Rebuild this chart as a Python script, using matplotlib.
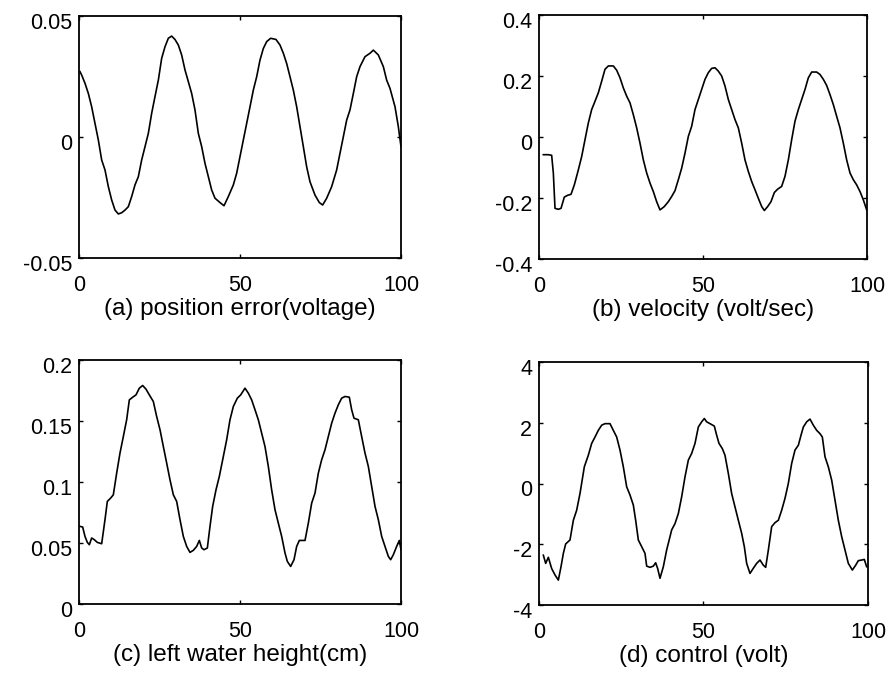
import matplotlib
matplotlib.use("Agg")
import matplotlib.pyplot as plt
import matplotlib.transforms as mtransforms

plt.rcParams['font.family'] = ['Liberation Sans', 'DejaVu Sans']

# (a) position error (voltage)
a_x = [0.31, 0.83, 1.86, 2.90, 3.93, 4.97, 6.00, 7.04, 8.07, 9.11, 10.14, 11.18, 12.22,
       13.25, 14.29, 15.32, 16.36, 17.39, 18.43, 19.46, 20.50, 21.53, 22.57, 23.60,
       24.64, 25.67, 26.71, 27.74, 28.78, 29.81, 30.85, 31.88, 32.92, 33.95, 34.99,
       36.02, 37.06, 38.10, 39.13, 40.17, 41.20, 42.24, 43.79, 45.03, 46.38, 47.93,
       48.96, 50.00, 51.04, 52.07, 53.11, 54.14, 55.18, 56.21, 57.25, 58.28, 59.52,
       61.18, 62.42, 63.46, 64.49, 65.53, 66.56, 67.60, 68.63, 69.67, 70.70, 71.74,
       73.29, 74.64, 75.67, 76.92, 78.47, 80.02, 81.06, 82.09, 83.13, 84.16, 85.20,
       86.23, 87.27, 88.82, 90.37, 91.41, 92.96, 94.51, 95.55, 96.58, 98.14, 99.17,
       100.0]
a_y = [0.0270, 0.0256, 0.0222, 0.0180, 0.0125, 0.0056, -0.0012, -0.0095, -0.0136,
       -0.0205, -0.0260, -0.0302, -0.0318, -0.0313, -0.0302, -0.0288, -0.0246,
       -0.0198, -0.0164, -0.0095, -0.0040, 0.0015, 0.0098, 0.0167, 0.0235, 0.0325,
       0.0373, 0.0408, 0.0417, 0.0403, 0.0380, 0.0339, 0.0277, 0.0229, 0.0180,
       0.0112, 0.0015, -0.0040, -0.0109, -0.0164, -0.0219, -0.0253, -0.0271, -0.0284,
       -0.0246, -0.0198, -0.0150, -0.0081, -0.0012, 0.0056, 0.0125, 0.0194, 0.0249,
       0.0318, 0.0366, 0.0394, 0.0408, 0.0403, 0.0380, 0.0346, 0.0304, 0.0249,
       0.0194, 0.0125, 0.0043, -0.0040, -0.0123, -0.0185, -0.0240, -0.0271, -0.0281,
       -0.0253, -0.0205, -0.0136, -0.0067, 0.0001, 0.0070, 0.0112, 0.0180, 0.0249,
       0.0291, 0.0332, 0.0346, 0.0359, 0.0339, 0.0291, 0.0235, 0.0201, 0.0125,
       0.0043, -0.0040]

# (b) velocity (volt/sec)
b_x = [1.32, 2.85, 3.86, 4.37, 4.88, 5.89, 6.71, 7.72, 8.74, 9.76, 10.77, 11.99, 13.01,
       14.02, 15.04, 16.06, 17.07, 18.09, 19.11, 20.12, 21.14, 22.66, 23.68, 24.70,
       25.71, 26.73, 27.74, 28.76, 29.78, 30.79, 31.81, 32.83, 33.84, 34.86, 35.87,
       36.89, 38.21, 39.43, 40.45, 41.46, 42.48, 43.50, 44.51, 45.53, 46.54, 47.56,
       48.58, 49.59, 50.61, 51.63, 52.64, 53.66, 54.67, 55.69, 56.71, 57.72, 58.74,
       59.76, 60.77, 61.79, 62.80, 63.82, 64.84, 65.85, 66.87, 67.89, 68.70, 69.72,
       70.73, 71.75, 72.76, 73.98, 75.00, 76.02, 77.03, 78.05, 79.07, 80.08, 81.10,
       82.11, 83.13, 84.65, 85.67, 86.69, 87.70, 88.72, 89.74, 90.75, 91.77, 92.78,
       93.80, 94.82, 95.83, 96.85, 97.87, 98.88, 99.90]
b_y = [-0.058, -0.058, -0.060, -0.118, -0.234, -0.237, -0.234, -0.197, -0.191, -0.188,
       -0.157, -0.108, -0.064, -0.009, 0.046, 0.090, 0.117, 0.145, 0.183, 0.222,
       0.233, 0.233, 0.219, 0.194, 0.161, 0.134, 0.112, 0.073, 0.030, -0.020, -0.075,
       -0.118, -0.151, -0.179, -0.212, -0.239, -0.228, -0.212, -0.195, -0.176,
       -0.140, -0.102, -0.053, 0.002, 0.035, 0.090, 0.123, 0.156, 0.189, 0.211,
       0.225, 0.227, 0.216, 0.200, 0.167, 0.123, 0.090, 0.057, 0.030, -0.020, -0.075,
       -0.113, -0.146, -0.173, -0.201, -0.228, -0.241, -0.228, -0.212, -0.182,
       -0.171, -0.162, -0.129, -0.075, -0.009, 0.052, 0.090, 0.123, 0.156, 0.194,
       0.213, 0.213, 0.205, 0.189, 0.169, 0.139, 0.106, 0.068, 0.030, -0.020, -0.075,
       -0.118, -0.140, -0.157, -0.179, -0.206, -0.239]

# (c) left water height (cm)
c_x = [0.31, 1.14, 1.86, 2.59, 3.21, 3.93, 4.76, 5.69, 7.04, 8.07, 8.80, 9.83, 10.66,
       11.70, 12.73, 13.77, 14.80, 15.63, 16.67, 17.70, 18.74, 19.77, 20.81, 21.84,
       23.08, 24.12, 25.16, 26.19, 27.23, 28.26, 29.30, 30.33, 31.37, 32.40, 33.44,
       34.47, 35.51, 36.54, 37.37, 38.10, 38.82, 39.86, 40.68, 41.51, 42.55, 43.58,
       44.62, 45.86, 46.89, 47.93, 49.17, 50.21, 51.55, 52.59, 53.62, 54.66, 55.69,
       56.73, 57.76, 58.80, 59.83, 60.87, 61.90, 62.94, 63.98, 64.70, 65.73, 66.77,
       67.60, 68.43, 70.19, 71.22, 72.26, 73.29, 74.33, 75.36, 76.40, 77.43, 78.47,
       79.50, 80.54, 81.57, 82.61, 83.95, 84.68, 85.40, 86.75, 87.78, 88.82, 89.86,
       90.89, 91.93, 92.96, 94.00, 95.03, 96.07, 96.79, 97.62, 98.65, 99.48, 100.0]
c_y = [0.0636, 0.0631, 0.0554, 0.0505, 0.0486, 0.0541, 0.0527, 0.0505, 0.0494,
       0.0691, 0.0841, 0.0868, 0.0895, 0.1073, 0.1237, 0.1373, 0.1510, 0.1673,
       0.1695, 0.1714, 0.1769, 0.1791, 0.1761, 0.1714, 0.1660, 0.1537, 0.1428,
       0.1291, 0.1155, 0.1018, 0.0895, 0.0841, 0.0691, 0.0554, 0.0472, 0.0423,
       0.0440, 0.0472, 0.0521, 0.0459, 0.0445, 0.0459, 0.0636, 0.0800, 0.0936,
       0.1046, 0.1182, 0.1346, 0.1510, 0.1619, 0.1687, 0.1714, 0.1769, 0.1728,
       0.1673, 0.1592, 0.1510, 0.1400, 0.1291, 0.1127, 0.0936, 0.0773, 0.0663,
       0.0554, 0.0418, 0.0349, 0.0308, 0.0363, 0.0472, 0.0521, 0.0521, 0.0663,
       0.0827, 0.0909, 0.1073, 0.1182, 0.1264, 0.1373, 0.1482, 0.1564, 0.1633,
       0.1687, 0.1701, 0.1695, 0.1592, 0.1523, 0.1510, 0.1373, 0.1237, 0.1127,
       0.0964, 0.0800, 0.0691, 0.0554, 0.0472, 0.0390, 0.0363, 0.0404, 0.0472,
       0.0521, 0.0445]

# (d) control (volt)
d_x = [1.32, 2.03, 2.84, 3.85, 4.86, 5.88, 6.69, 7.40, 8.11, 9.42, 10.44, 11.45, 12.46,
       13.78, 14.99, 16.01, 17.02, 18.03, 19.05, 20.06, 21.58, 22.59, 23.61, 24.62,
       25.63, 26.65, 27.66, 28.67, 29.38, 30.19, 31.21, 32.22, 32.73, 33.74, 34.75,
       35.46, 36.07, 36.78, 37.79, 38.80, 39.82, 40.32, 41.34, 42.35, 43.36, 44.38,
       45.39, 46.40, 47.42, 48.43, 49.44, 50.25, 50.96, 51.98, 53.29, 54.00, 54.71,
       55.72, 56.53, 57.55, 58.56, 59.57, 60.59, 61.60, 62.41, 63.12, 64.13, 65.15,
       66.16, 67.17, 68.19, 68.90, 69.71, 70.72, 71.73, 72.75, 73.76, 74.77, 75.78,
       76.80, 77.81, 78.83, 79.64, 80.35, 81.36, 82.37, 83.38, 84.40, 85.41, 86.12,
       86.93, 87.94, 88.96, 89.97, 90.98, 92.00, 93.01, 94.02, 95.24, 96.25, 97.06,
       98.07, 98.88, 99.59]
d_y = [-2.36, -2.63, -2.43, -2.80, -3.01, -3.18, -2.74, -2.30, -1.99, -1.86, -1.21,
       -0.88, -0.33, 0.55, 0.93, 1.32, 1.53, 1.75, 1.92, 1.97, 1.97, 1.75, 1.53, 1.10,
       0.55, -0.11, -0.38, -0.71, -1.21, -1.86, -2.08, -2.30, -2.72, -2.76, -2.72,
       -2.61, -2.80, -3.12, -2.74, -2.19, -1.75, -1.53, -1.32, -0.99, -0.44, 0.22,
       0.77, 0.99, 1.32, 1.86, 2.03, 2.14, 2.03, 1.97, 1.89, 1.59, 1.32, 1.15, 0.93,
       0.33, -0.33, -0.77, -1.21, -1.64, -2.08, -2.63, -2.96, -2.79, -2.63, -2.52,
       -2.69, -2.76, -2.19, -1.42, -1.29, -1.21, -0.88, -0.49, 0.00, 0.66, 1.10, 1.26,
       1.59, 1.86, 2.03, 2.12, 1.92, 1.75, 1.64, 1.53, 0.88, 0.55, 0.11, -0.55, -1.21,
       -1.75, -2.19, -2.63, -2.85, -2.69, -2.54, -2.52, -2.50, -2.74]

x_ticks = [0, 50, 100]
panels = [
    (a_x, a_y, (-0.05, 0.05), [-0.05, 0, 0.05], ['-0.05', '0', '0.05'],
     '(a) position error(voltage)', [79, 16, 401, 258]),
    (b_x, b_y, (-0.4, 0.4), [-0.4, -0.2, 0, 0.2, 0.4], ['-0.4', '-0.2', '0', '0.2', '0.4'],
     '(b) velocity (volt/sec)', [539, 15, 867, 259]),
    (c_x, c_y, (0, 0.2), [0, 0.05, 0.1, 0.15, 0.2], ['0', '0.05', '0.1', '0.15', '0.2'],
     '(c) left water height(cm)', [79, 360, 401, 604]),
    (d_x, d_y, (-4, 4), [-4, -2, 0, 2, 4], ['-4', '-2', '0', '2', '4'],
     '(d) control (volt)', [539, 362, 868, 605]),
]

W, H = 895, 681
fig = plt.figure(figsize=(W / 100, H / 100), dpi=100)

for xs, ys, ylim, yt, ytl, lab, (l, t, r, b) in panels:
    ax = fig.add_axes([l / W, 1 - b / H, (r - l) / W, (b - t) / H])
    ax.plot(xs, ys, color='black', lw=1.2)
    ax.set_xlim(0, 100)
    ax.set_ylim(*ylim)
    ax.set_xticks(x_ticks)
    ax.set_xticklabels([str(v) for v in x_ticks])
    ax.set_yticks(yt)
    ax.set_yticklabels(ytl)
    ax.tick_params(direction='in', length=3, width=1, top=True, right=True,
                   labelsize=15.5, colors='black')
    ax.tick_params(axis='x', pad=12)
    ax.tick_params(axis='y', pad=5)
    off = mtransforms.ScaledTranslation(0, -5 / 100, fig.dpi_scale_trans)
    for lbl in ax.get_yticklabels():
        lbl.set_transform(lbl.get_transform() + off)
    for s in ax.spines.values():
        s.set_linewidth(1.3)
    ax.set_xlabel(lab, fontsize=17.5, labelpad=2)

fig.savefig('out.png', dpi=100, facecolor='white')
